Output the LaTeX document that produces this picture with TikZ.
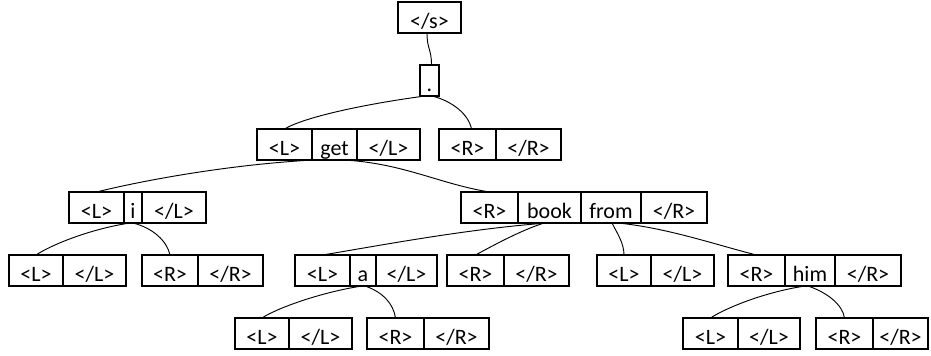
\documentclass[tikz,border=0pt]{standalone}
\usepackage{fontspec}
\setmainfont{Carlito}
\usetikzlibrary{calc}

% one cell of a token box: left edge, right edge, top edge (pixel units)
\newcommand\cellat[5]{%
  \node[cell,minimum width={(#3-#2)*0.75pt},anchor=north west] (#1) at (#2,#4) {#5};}

\begin{document}
\begin{tikzpicture}[x=0.75pt,y=-0.75pt,
  cell/.style={draw,line width=0.85pt,inner sep=0pt,outer sep=0pt,
    text height=19.5pt,text depth=3.75pt,
    font=\fontsize{16.5}{19}\selectfont},
  link/.style={line width=0.7pt}]
\useasboundingbox (0,0) rectangle (931,355);

% root
\cellat{s}{398}{461}{2}{</s>}
\cellat{dot}{420}{439}{65}{.}

% level 1
\cellat{gL}{257}{312}{129}{<L>}
\cellat{get}{312}{357}{129}{get}
\cellat{gLe}{357}{420}{129}{</L>}
\cellat{rR}{439}{496}{129}{<R>}
\cellat{rRe}{496}{561}{129}{</R>}

% level 2
\cellat{iL}{69}{124}{192}{<L>}
\cellat{i}{124}{142}{192}{i}
\cellat{iLe}{142}{206}{192}{</L>}
\cellat{bR}{461}{518}{192}{<R>}
\cellat{book}{518}{581}{192}{book}
\cellat{from}{581}{641}{192}{from}
\cellat{bRe}{641}{707}{192}{</R>}

% level 3
\cellat{iLL}{9}{63}{255}{<L>}
\cellat{iLLe}{63}{126}{255}{</L>}
\cellat{iRR}{142}{198}{255}{<R>}
\cellat{iRRe}{198}{263}{255}{</R>}
\cellat{aL}{295}{350}{255}{<L>}
\cellat{a}{350}{376}{255}{a}
\cellat{aLe}{376}{437}{255}{</L>}
\cellat{bRR}{447}{504}{255}{<R>}
\cellat{bRRe}{504}{569}{255}{</R>}
\cellat{fLL}{597}{651}{255}{<L>}
\cellat{fLLe}{651}{714}{255}{</L>}
\cellat{hR}{728}{785}{255}{<R>}
\cellat{him}{785}{835}{255}{him}
\cellat{hRe}{835}{901}{255}{</R>}

% level 4
\cellat{aLL}{235}{289}{318}{<L>}
\cellat{aLLe}{289}{352}{318}{</L>}
\cellat{aRR}{367}{424}{318}{<R>}
\cellat{aRRe}{424}{489}{318}{</R>}
\cellat{hLL}{683}{738}{318}{<L>}
\cellat{hLLe}{738}{800}{318}{</L>}
\cellat{hRR}{816}{873}{318}{<R>}
\cellat{hRRe}{873}{928}{318}{</R>}

% connectors
\draw[link] ($(s.south)+(-2.5,0)$) .. controls +(0,16) and +(0,-16) .. ($(dot.north)+(2,0)$);
\draw[link] ($(dot.south)+(-4.5,0)$) .. controls +(-60,8) and +(20,-12) .. (gL.north);
\draw[link] ($(dot.south)+(2.5,0)$) .. controls +(20,5) and +(-3,-15) .. ($(rR.north)+(4,0)$);

\draw[link] ($(get.south)+(-21.5,0)$) .. controls +(-90,5) and +(40,-10) .. (iL.north);
\draw[link] ($(get.south)+(8.5,0)$) .. controls +(60,3) and +(-50,-8) .. (bR.north);

\draw[link] ($(i.south)+(-3,0)$) .. controls +(-40,6) and +(15,-10) .. (iLL.north);
\draw[link] (i.south) .. controls +(20,5) and +(-3,-14) .. (iRR.north);

\draw[link] ($(book.south)+(-2.5,0)$) .. controls +(-80,6) and +(60,-10) .. (aL.north);
\draw[link] ($(book.south)+(-5.5,0)$) .. controls +(-25,8) and +(15,-8) .. (bRR.north);
\draw[link] ($(from.south)+(1,0)$) .. controls +(5,10) and +(0,-12) .. (fLL.north);
\draw[link] ($(from.south)+(7,0)$) .. controls +(50,5) and +(-40,-10) .. (hR.north);

\draw[link] ($(a.south)+(-1,0)$) .. controls +(-40,6) and +(15,-10) .. (aLL.north);
\draw[link] ($(a.south)+(2,0)$) .. controls +(18,6) and +(-2,-14) .. (aRR.north);
\draw[link] ($(him.south)+(-5,0)$) .. controls +(-40,6) and +(15,-10) .. (hLL.north);
\draw[link] ($(him.south)+(-2,0)$) .. controls +(18,6) and +(-2,-14) .. (hRR.north);
\end{tikzpicture}
\end{document}
